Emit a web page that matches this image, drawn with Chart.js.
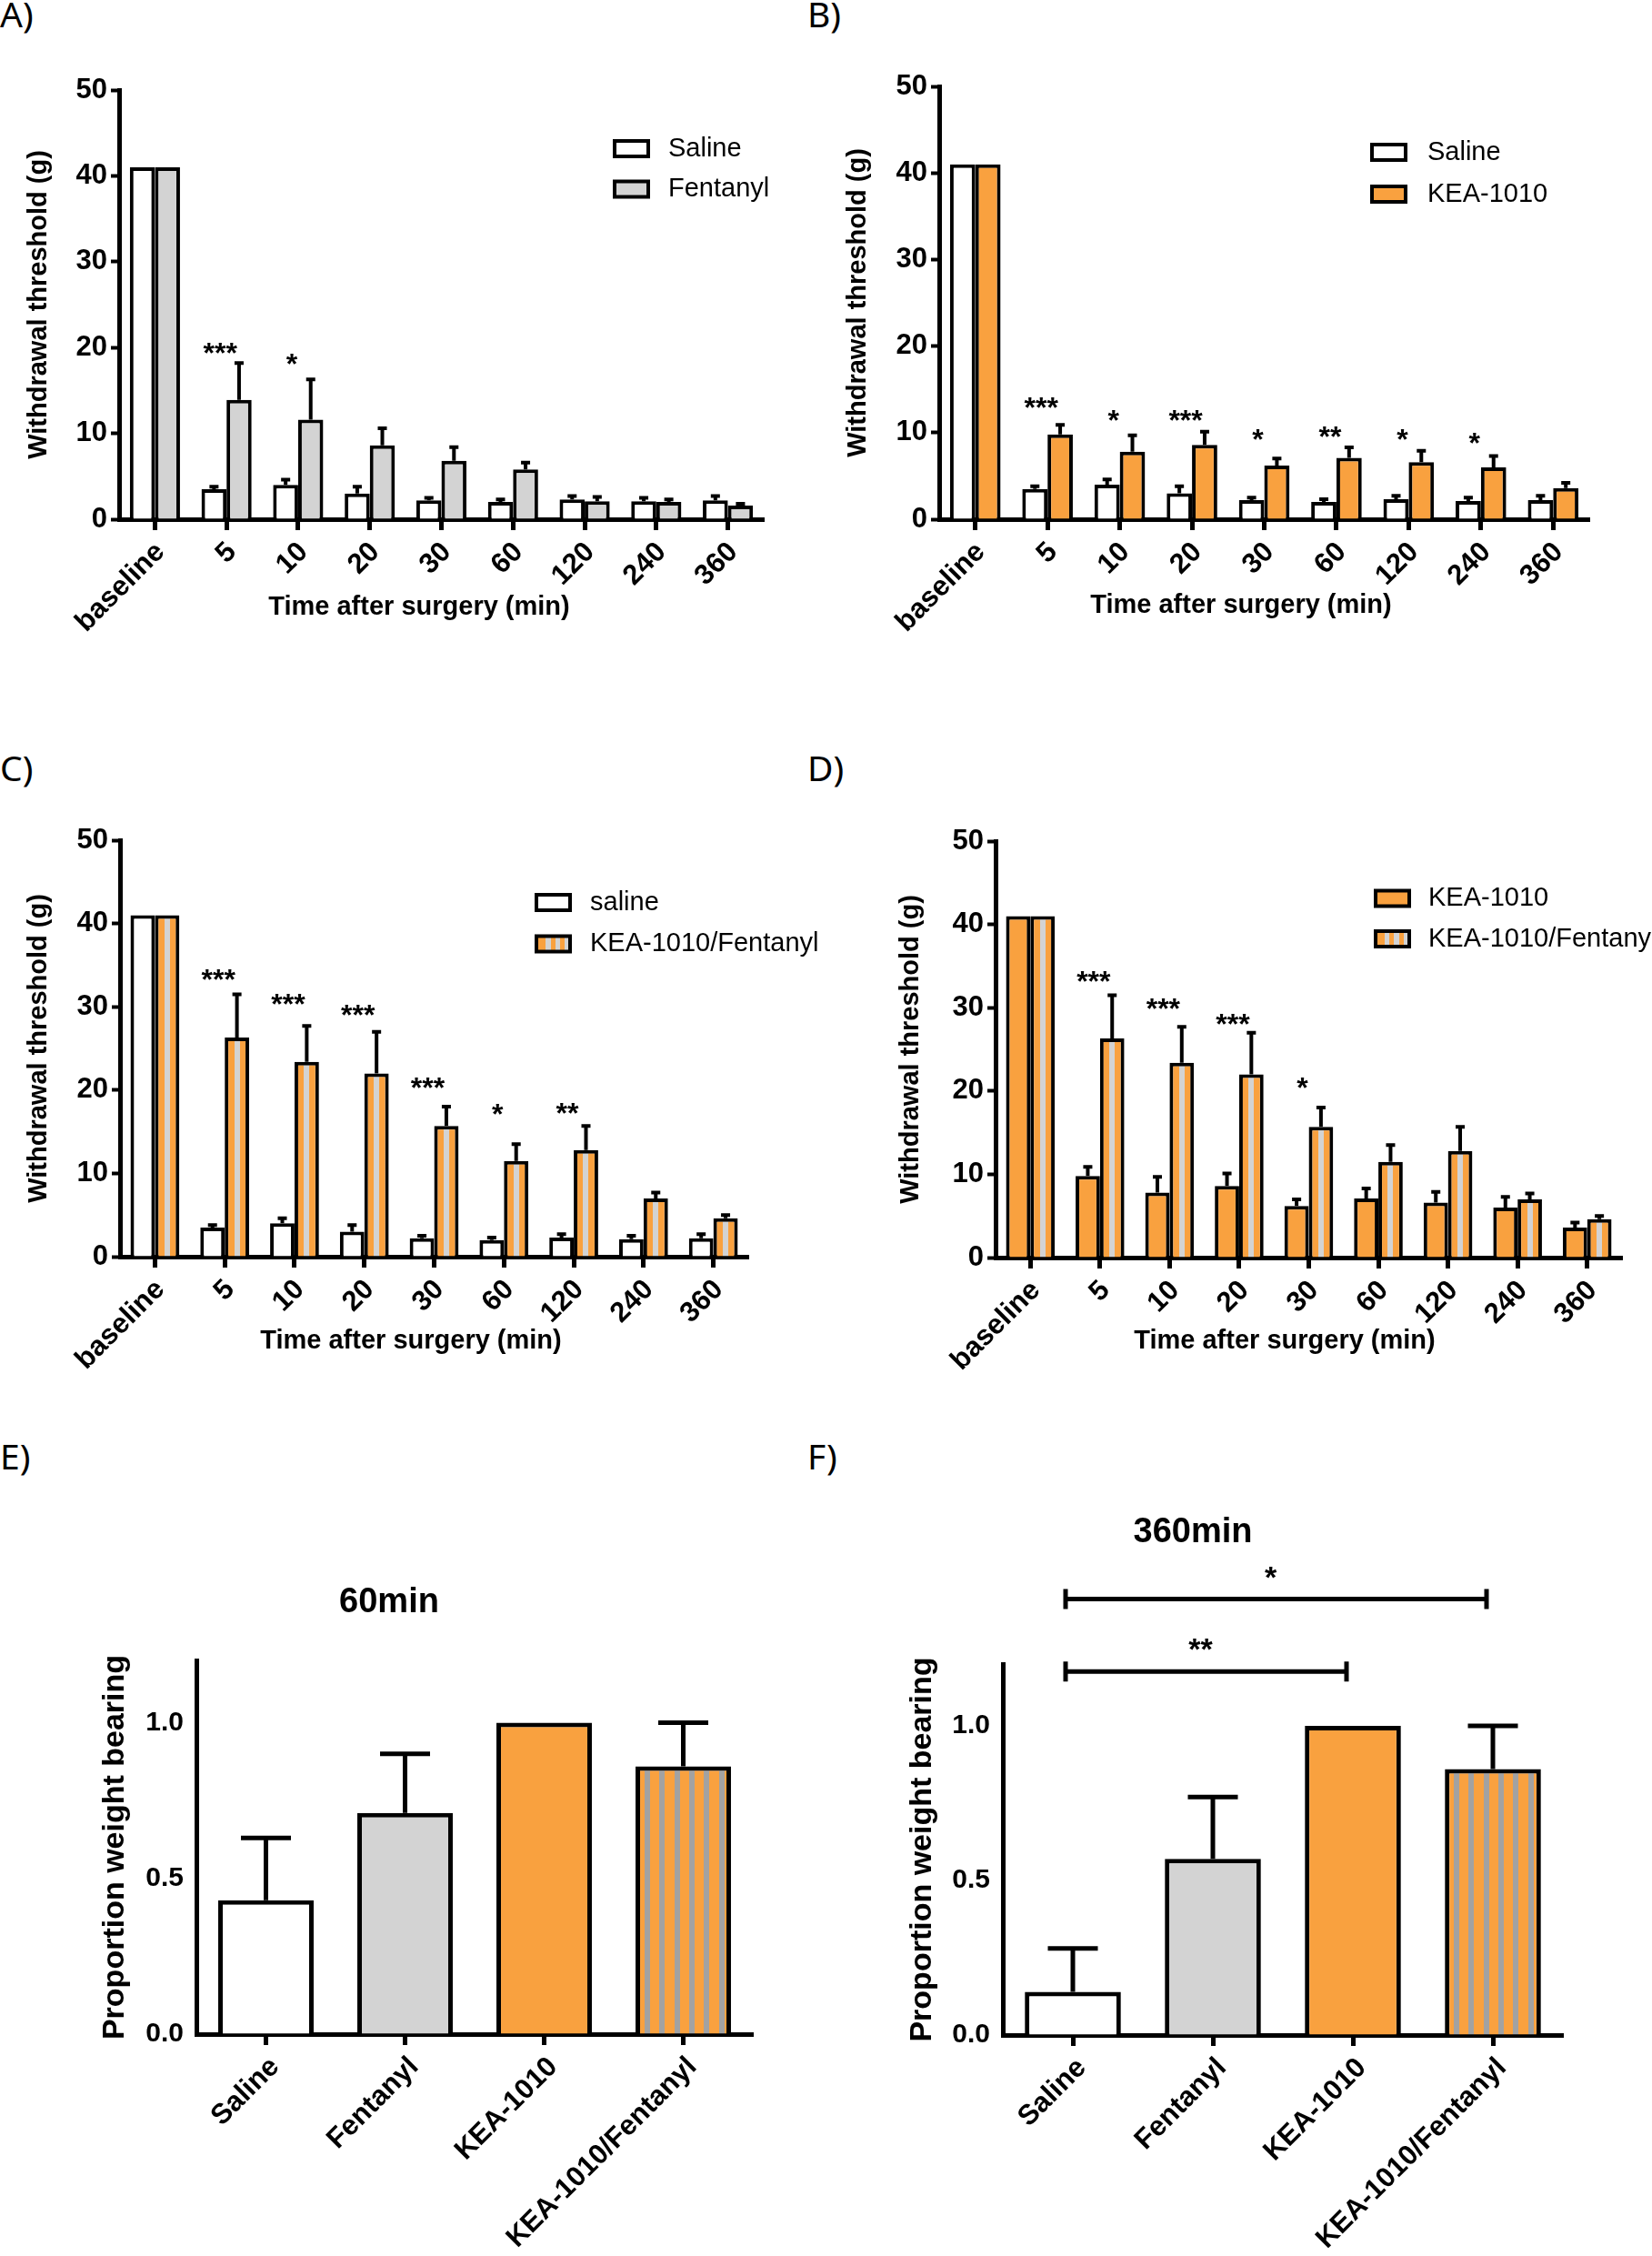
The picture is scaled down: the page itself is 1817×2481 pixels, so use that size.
<!DOCTYPE html>
<html>
<head>
<meta charset="utf-8">
<script src="https://cdn.jsdelivr.net/npm/chart.js@4.4.1/dist/chart.umd.min.js"></script>
<style>
    body { margin: 0; background: #fff; width: 1817px; height: 2481px; position: relative; overflow: hidden; }
    canvas { position: absolute; }
    .lbl { position: absolute; font-family: "Noto Sans", sans-serif; font-size: 39px; line-height: 1; color: #000; }
</style>
</head>
<body>
<div class="lbl" style="left:0;top:-5px">A)</div>
<div class="lbl" style="left:888px;top:-5px">B)</div>
<div class="lbl" style="left:0;top:824px">C)</div>
<div class="lbl" style="left:888px;top:824px">D)</div>
<div class="lbl" style="left:0;top:1581px">E)</div>
<div class="lbl" style="left:888px;top:1581px">F)</div>
<canvas id="chartA"></canvas>
<canvas id="chartB"></canvas>
<canvas id="chartC"></canvas>
<canvas id="chartD"></canvas>
<canvas id="chartE"></canvas>
<canvas id="chartF"></canvas>
<script>
// time course panels (A-D), withdrawal threshold in g, mean and SEM
const timeLabels = ["baseline", "5", "10", "20", "30", "60", "120", "240", "360"];
const saline = [41, 3.5, 4.0, 3.0, 2.2, 2.0, 2.3, 2.1, 2.2];
const salineSem = [0, 0.3, 0.6, 0.8, 0.3, 0.3, 0.4, 0.4, 0.5];
const fentanyl = [41, 13.9, 11.6, 8.6, 6.8, 5.8, 2.1, 2.0, 1.6];
const fentanylSem = [0, 4.3, 4.7, 2.0, 1.6, 0.8, 0.5, 0.3, 0.2];
const kea = [41, 9.8, 7.8, 8.6, 6.2, 7.1, 6.6, 6.0, 3.6];
const keaSem = [0, 1.1, 1.9, 1.5, 0.8, 1.2, 1.3, 1.3, 0.6];
const keaFent = [41, 26.3, 23.4, 22.0, 15.7, 11.5, 12.8, 7.0, 4.6];
const keaFentSem = [0, 5.2, 4.3, 5.0, 2.3, 2.0, 2.9, 0.7, 0.4];

// significance marks and the height (g) they sit at
const starsA = ["", "***", "*", "", "", "", "", "", ""];
const starsAAt = [0, 20.1, 18.8, 0, 0, 0, 0, 0, 0];
const starsB = ["", "***", "*", "***", "*", "**", "*", "*", ""];
const starsBAt = [0, 13.6, 12.2, 12.2, 10.0, 10.3, 10.0, 9.6, 0];
const starsC = ["", "***", "***", "***", "***", "*", "**", "", ""];
const starsCAt = [0, 34.1, 31.1, 29.8, 21.1, 17.9, 18.0, 0, 0];
const starsD = ["", "***", "***", "***", "*", "", "", "", ""];
const starsDAt = [0, 33.9, 30.7, 28.8, 21.2, 0, 0, 0, 0];

// weight bearing panels (E, F)
const groups = ["Saline", "Fentanyl", "KEA-1010", "KEA-1010/Fentanyl"];
const wb60 = [0.43, 0.71, 1.0, 0.86];
const wb60Sem = [0.20, 0.19, 0, 0.14];
const wb360 = [0.14, 0.57, 1.0, 0.86];
const wb360Sem = [0.14, 0.20, 0, 0.14];
const bracketFrom = [0, 0];
const bracketTo = [3, 2];
const bracketAt = [1.41, 1.176];
const bracketText = ["*", "**"];

const ORANGE = "#F9A13F";
const LIGHT_GREY = "#D3D3D3";
const FONT = '"Liberation Sans", Arial, sans-serif';
const NARROW = '"Liberation Sans Narrow", "Arial Narrow", sans-serif';

Chart.defaults.font.family = FONT;
Chart.defaults.color = "#000";

function stripes(ctx, x0, x1, firstGrey, period, greyW, grey) {
    const g = ctx.createLinearGradient(x0, 0, x1, 0);
    const w = x1 - x0;
    g.addColorStop(0, ORANGE);
    for (let s = firstGrey; s < w; s += period) {
        const a = s / w;
        const b = Math.min((s + greyW) / w, 1);
        g.addColorStop(a, ORANGE);
        g.addColorStop(a, grey);
        g.addColorStop(b, grey);
        if (b < 1) g.addColorStop(b, ORANGE);
    }
    return g;
}

// C, D: striped bar is the second of a pair, one light stripe down its middle
function stripedPair(c) {
    if (c.dataIndex === undefined) return ORANGE;
    const xs = c.chart.scales.x;
    const step = xs.getPixelForValue(1) - xs.getPixelForValue(0);
    const w = (step * 0.7) / 2;
    const left = xs.getPixelForValue(c.dataIndex);
    if (!isFinite(left) || !isFinite(w) || w <= 0) return ORANGE; // scales not laid out yet
    return stripes(c.chart.ctx, left, left + w, (w - 6) / 2, 1000, 6, LIGHT_GREY);
}

// E, F: one bar per group, last one striped orange / grey
function groupFill(c) {
    const fills = ["#fff", LIGHT_GREY, ORANGE];
    if (c.dataIndex === undefined) return ORANGE;
    if (c.dataIndex < 3) return fills[c.dataIndex];
    const xs = c.chart.scales.x;
    const step = xs.getPixelForValue(1) - xs.getPixelForValue(0);
    const w = step * 0.686;
    const left = xs.getPixelForValue(c.dataIndex) - w / 2;
    if (!isFinite(left) || !isFinite(w) || w <= 0) return ORANGE;
    return stripes(c.chart.ctx, left, left + w, 10, 16.3, 6, "#A2A2A2");
}

const errorBars = {
    id: "errorBars",
    afterDatasetsDraw(chart, args, o) {
        const ctx = chart.ctx;
        const y = chart.scales.y;
        chart.data.datasets.forEach((ds, di) => {
            if (!ds.sem) return;
            chart.getDatasetMeta(di).data.forEach((bar, i) => {
                const e = ds.sem[i];
                if (!e) return;
                const top = y.getPixelForValue(ds.data[i] + e);
                ctx.save();
                ctx.strokeStyle = "#000";
                ctx.lineWidth = o.width;
                ctx.beginPath();
                ctx.moveTo(bar.x, bar.y);
                ctx.lineTo(bar.x, top);
                ctx.moveTo(bar.x - o.cap / 2, top);
                ctx.lineTo(bar.x + o.cap / 2, top);
                ctx.stroke();
                ctx.restore();
            });
        });
    },
};

const starMarks = {
    id: "starMarks",
    afterDatasetsDraw(chart, args, o) {
        if (!o.text) return;
        const { ctx, scales } = chart;
        ctx.save();
        ctx.font = "bold 32px " + FONT;
        ctx.textAlign = "center";
        ctx.textBaseline = "alphabetic";
        ctx.fillStyle = "#000";
        o.text.forEach((t, i) => {
            if (!t) return;
            const px = scales.x.getPixelForValue(i) + o.dx;
            const py = scales.y.getPixelForValue(o.at[i]) + 0.56 * 32;
            ctx.fillText(t, px, py);
        });
        ctx.restore();
    },
};

const brackets = {
    id: "brackets",
    afterDraw(chart, args, o) {
        if (!o.from) return;
        const { ctx, scales } = chart;
        ctx.save();
        ctx.strokeStyle = "#000";
        ctx.fillStyle = "#000";
        ctx.lineWidth = 5;
        ctx.font = "bold 34px " + FONT;
        ctx.textAlign = "center";
        o.from.forEach((f, i) => {
            const x0 = scales.x.getPixelForValue(f) - 8;
            const x1 = scales.x.getPixelForValue(o.to[i]) - 7;
            const py = scales.y.getPixelForValue(o.at[i]);
            ctx.beginPath();
            ctx.moveTo(x0, py);
            ctx.lineTo(x1, py);
            ctx.moveTo(x0, py - 11);
            ctx.lineTo(x0, py + 11);
            ctx.moveTo(x1, py - 11);
            ctx.lineTo(x1, py + 11);
            ctx.stroke();
            ctx.fillText(o.text[i], (x0 + x1) / 2 - 6, py - 13);
        });
        ctx.restore();
    },
};

const boxLegend = {
    id: "boxLegend",
    afterDraw(chart, args, o) {
        if (o.x === undefined) return;
        const ctx = chart.ctx;
        chart.data.datasets.forEach((ds, i) => {
            const cy = o.y + i * o.gap;
            const bx = o.x + 2;
            const by = cy - 8.5;
            const bw = 37;
            const bh = 17;
            ctx.save();
            ctx.fillStyle = ds.legendFill === "stripe"
                ? stripes(ctx, bx, bx + bw, 10, 10.5, 5.5, LIGHT_GREY)
                : ds.legendFill;
            ctx.fillRect(bx, by, bw, bh);
            ctx.lineWidth = 4;
            ctx.strokeStyle = "#000";
            ctx.strokeRect(bx, by, bw, bh);
            ctx.font = "29px " + FONT;
            ctx.fillStyle = "#000";
            ctx.textBaseline = "middle";
            ctx.fillText(ds.label, o.textX, cy);
            ctx.restore();
        });
    },
};

const freeText = {
    id: "freeText",
    afterDraw(chart, args, o) {
        if (!o.items) return;
        const ctx = chart.ctx;
        o.items.forEach((t) => {
            ctx.save();
            ctx.font = t.font;
            ctx.fillStyle = "#000";
            ctx.textAlign = "center";
            ctx.textBaseline = "middle";
            ctx.fillText(t.text, t.x, t.y);
            ctx.restore();
        });
    },
};

function makePanel(id, box, area, cfg) {
    const cv = document.getElementById(id);
    cv.width = box.w;
    cv.height = box.h;
    cv.style.left = box.left + "px";
    cv.style.top = box.top + "px";
    const yW = area.l - box.left;
    const xH = box.top + box.h - area.b;
    return new Chart(cv, {
        type: "bar",
        data: { labels: cfg.labels, datasets: cfg.datasets },
        options: {
            responsive: false,
            animation: false,
            devicePixelRatio: 1,
            layout: {
                padding: { left: 0, top: area.t - box.top, right: box.left + box.w - area.r, bottom: 0 },
            },
            plugins: Object.assign({ legend: { display: false }, tooltip: { enabled: false } }, cfg.plugins),
            scales: {
                x: {
                    grid: { display: true, offset: false, drawOnChartArea: false, tickLength: 12, tickWidth: 5, tickColor: "#000" },
                    border: { display: true, color: "#000", width: 5 },
                    ticks: {
                        autoSkip: false, maxRotation: 45, minRotation: 45,
                        font: cfg.xFont, padding: 6, labelOffset: cfg.labelOffset,
                    },
                    afterFit: (s) => { s.height = xH; },
                },
                y: cfg.y(yW),
            },
        },
        plugins: [errorBars, starMarks, boxLegend, freeText, brackets],
    });
}

function timeAxis(titlePad) {
    return (yW) => ({
        min: 0,
        max: 50,
        ticks: { stepSize: 10, font: { family: NARROW, size: 31, weight: "bold" }, padding: 4 },
        grid: { display: true, drawOnChartArea: false, tickLength: 9, tickWidth: 4, tickColor: "#000" },
        border: { display: true, color: "#000", width: 5 },
        title: {
            display: true, text: "Withdrawal threshold (g)",
            font: { size: 29, weight: "bold" }, padding: { top: titlePad },
        },
        afterFit: (s) => { s.width = yW; },
    });
}

function weightAxis(titlePad) {
    return (yW) => ({
        min: 0,
        max: 1.2,
        afterBuildTicks: (s) => { s.ticks = s.ticks.filter((t) => t.value <= 1.0001); },
        ticks: { stepSize: 0.5, font: { size: 30, weight: "bold" }, padding: 14, callback: (v) => Number(v).toFixed(1) },
        grid: { display: true, drawOnChartArea: false, drawTicks: false },
        border: { display: true, color: "#000", width: 5 },
        title: {
            display: true, text: "Proportion weight bearing",
            font: { size: 34, weight: "bold" }, padding: { top: titlePad },
        },
        afterFit: (s) => { s.width = yW; },
    });
}

function pairSet(label, data, sem, fill, legendFill) {
    return {
        label: label, data: data, sem: sem,
        backgroundColor: fill, legendFill: legendFill,
        borderColor: "#000", borderWidth: 4,
        categoryPercentage: 0.7, barPercentage: 1,
    };
}

const xTitleFont = "bold 29px " + FONT;
const timeTickFont = { family: NARROW, size: 31, weight: "bold" };
const groupTickFont = { size: 31, weight: "bold" };

makePanel("chartA", { left: 0, top: 0, w: 900, h: 760 }, { l: 131, t: 99, r: 840, b: 571 }, {
    labels: timeLabels, xFont: timeTickFont, labelOffset: 6, y: timeAxis(26),
    datasets: [
        pairSet("Saline", saline, salineSem, "#fff", "#fff"),
        pairSet("Fentanyl", fentanyl, fentanylSem, LIGHT_GREY, LIGHT_GREY),
    ],
    plugins: {
        errorBars: { width: 4, cap: 10 },
        starMarks: { text: starsA, at: starsAAt, dx: -7 },
        boxLegend: { x: 674, y: 163.5, gap: 44.5, textX: 735 },
        freeText: { items: [{ text: "Time after surgery (min)", x: 461, y: 668, font: xTitleFont }] },
    },
});

makePanel("chartB", { left: 900, top: 0, w: 917, h: 760 }, { l: 1033, t: 95, r: 1748, b: 571 }, {
    labels: timeLabels, xFont: timeTickFont, labelOffset: 6, y: timeAxis(27),
    datasets: [
        pairSet("Saline", saline, salineSem, "#fff", "#fff"),
        pairSet("KEA-1010", kea, keaSem, ORANGE, ORANGE),
    ],
    plugins: {
        errorBars: { width: 4, cap: 10 },
        starMarks: { text: starsB, at: starsBAt, dx: -7 },
        boxLegend: { x: 607, y: 167.5, gap: 46, textX: 670 },
        freeText: { items: [{ text: "Time after surgery (min)", x: 465, y: 666, font: xTitleFont }] },
    },
});

makePanel("chartC", { left: 0, top: 780, w: 900, h: 760 }, { l: 132, t: 924, r: 823, b: 1382 }, {
    labels: timeLabels, xFont: timeTickFont, labelOffset: 6, y: timeAxis(26),
    datasets: [
        pairSet("saline", saline, salineSem, "#fff", "#fff"),
        pairSet("KEA-1010/Fentanyl", keaFent, keaFentSem, stripedPair, "stripe"),
    ],
    plugins: {
        errorBars: { width: 4, cap: 10 },
        starMarks: { text: starsC, at: starsCAt, dx: -7 },
        boxLegend: { x: 588, y: 212.5, gap: 45.5, textX: 649 },
        freeText: { items: [{ text: "Time after surgery (min)", x: 452, y: 695, font: xTitleFont }] },
    },
});

makePanel("chartD", { left: 900, top: 780, w: 917, h: 760 }, { l: 1095, t: 925, r: 1784, b: 1383 }, {
    labels: timeLabels, xFont: timeTickFont, labelOffset: 6, y: timeAxis(85),
    datasets: [
        pairSet("KEA-1010", kea, keaSem, ORANGE, ORANGE),
        pairSet("KEA-1010/Fentanyl", keaFent, keaFentSem, stripedPair, "stripe"),
    ],
    plugins: {
        errorBars: { width: 4, cap: 10 },
        starMarks: { text: starsD, at: starsDAt, dx: -7 },
        boxLegend: { x: 611, y: 208, gap: 44.5, textX: 671 },
        freeText: { items: [{ text: "Time after surgery (min)", x: 513, y: 695, font: xTitleFont }] },
    },
});

function groupSet(data, sem) {
    return {
        label: "Proportion weight bearing", data: data, sem: sem,
        backgroundColor: groupFill, borderColor: "#000", borderWidth: 5,
        categoryPercentage: 0.686, barPercentage: 1,
    };
}

makePanel("chartE", { left: 0, top: 1640, w: 900, h: 841 }, { l: 216, t: 1826, r: 828, b: 2237 }, {
    labels: groups, xFont: groupTickFont, labelOffset: 10, y: weightAxis(106),
    datasets: [groupSet(wb60, wb60Sem)],
    plugins: {
        errorBars: { width: 5, cap: 55 },
        freeText: { items: [{ text: "60min", x: 428, y: 123, font: "bold 38px " + FONT }] },
    },
});

makePanel("chartF", { left: 900, top: 1640, w: 917, h: 841 }, { l: 1103, t: 1830, r: 1719, b: 2238 }, {
    labels: groups, xFont: groupTickFont, labelOffset: 10, y: weightAxis(94),
    datasets: [groupSet(wb360, wb360Sem)],
    plugins: {
        errorBars: { width: 5, cap: 55 },
        brackets: { from: bracketFrom, to: bracketTo, at: bracketAt, text: bracketText },
        freeText: { items: [{ text: "360min", x: 412, y: 46, font: "bold 38px " + FONT }] },
    },
});
</script>
</body>
</html>
